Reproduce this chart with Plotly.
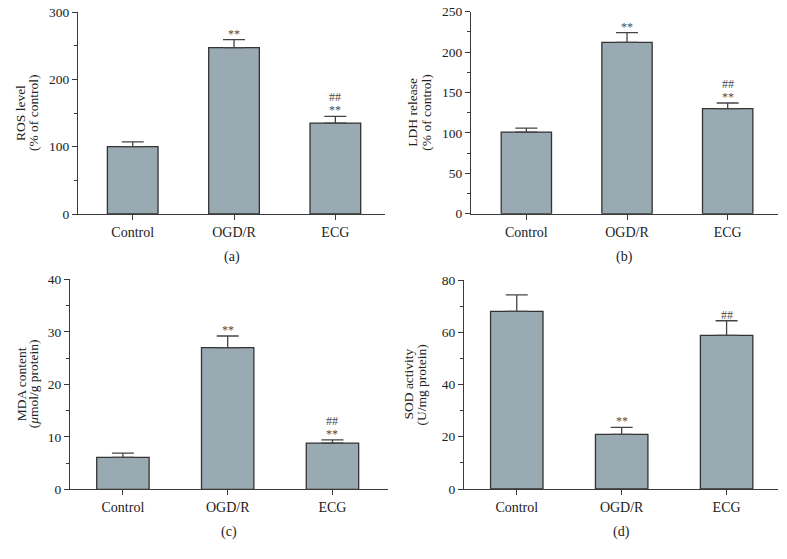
import plotly.graph_objects as go

categories = ["Control", "OGD/R", "ECG"]

ros_mean = [100, 247, 135]
ros_err = [7, 12, 10]
ldh_mean = [101, 212, 130]
ldh_err = [5, 12, 7]
mda_mean = [6.1, 27.0, 8.8]
mda_err = [0.8, 2.2, 0.6]
sod_mean = [68.0, 20.9, 58.8]
sod_err = [6.3, 2.7, 5.6]

ros_marks = [[], ["**"], ["**", "##"]]
ldh_marks = [[], ["**"], ["**", "##"]]
mda_marks = [[], ["**"], ["**", "##"]]
sod_marks = [[], ["**"], ["##"]]

panels = [
    dict(mean=ros_mean, err=ros_err, marks=ros_marks, title=["ROS level", "(% of control)"],
         label="(a)", yr=[0, 300], dt=100, mdt=50,
         px=(78, 385), py=(12, 214), xr=[-0.54, 2.49], tx=(20, 33)),
    dict(mean=ldh_mean, err=ldh_err, marks=ldh_marks, title=["LDH release", "(% of control)"],
         label="(b)", yr=[0, 250], dt=50, mdt=25,
         px=(471, 778), py=(11.7, 213.7), xr=[-0.55, 2.5], tx=(413, 427)),
    dict(mean=mda_mean, err=mda_err, marks=mda_marks,
         title=["MDA content", "(<i>μ</i>mol/g protein)"],
         label="(c)", yr=[0, 40], dt=10, mdt=5,
         px=(70, 388), py=(279.3, 489.3), xr=[-0.505, 2.53], tx=(21, 33)),
    dict(mean=sod_mean, err=sod_err, marks=sod_marks, title=["SOD activity", "(U/mg protein)"],
         label="(d)", yr=[0, 80], dt=20, mdt=10,
         px=(464, 778), py=(280, 489), xr=[-0.503, 2.49], tx=(408, 421)),
]

W, H = 787, 559


def fx(px):
    return px / W


def fy(py):
    return 1 - py / H


FONT = "Liberation Serif"
AX = "#3a3a3a"
fig = go.Figure()
layout = dict(
    width=W, height=H, margin=dict(l=0, r=0, t=0, b=0, pad=0),
    paper_bgcolor="white", plot_bgcolor="white", showlegend=False,
    font=dict(family=FONT, size=12, color="#222"),
    annotations=[],
)

for i, p in enumerate(panels):
    n = "" if i == 0 else str(i + 1)
    xa, ya = "x" + n, "y" + n
    fig.add_trace(go.Bar(
        x=categories, y=p["mean"], xaxis=xa, yaxis=ya, width=0.5,
        marker=dict(color="#9aaab2", line=dict(color="#333333", width=1.3)),
        error_y=dict(type="data", array=p["err"], arrayminus=[0, 0, 0], symmetric=False,
                     color="#444444", thickness=1.3, width=11),
        hoverinfo="skip",
    ))
    x0, x1 = p["px"]
    y0, y1 = p["py"]
    layout["xaxis" + n] = dict(
        domain=[fx(x0), fx(x1)], anchor=ya, range=p["xr"], type="category",
        automargin=False, ticklabeloverflow="allow",
        showline=True, linecolor=AX, linewidth=1.3, ticks="outside", ticklen=5,
        tickcolor=AX, tickwidth=1.2, showgrid=False, zeroline=False,
        tickfont=dict(family=FONT, size=14, color="#222"), fixedrange=True,
    )
    layout["yaxis" + n] = dict(
        domain=[fy(y1), fy(y0)], anchor=xa, range=p["yr"],
        automargin=False, ticklabeloverflow="allow",
        tickmode="linear", tick0=0, dtick=p["dt"],
        showline=True, linecolor=AX, linewidth=1.3, ticks="outside", ticklen=5,
        tickcolor=AX, tickwidth=1.2, showgrid=False, zeroline=False,
        minor=dict(ticks="outside", ticklen=3, tickcolor=AX, tickwidth=1.0,
                   dtick=p["mdt"], tick0=0, showgrid=False),
        tickfont=dict(family=FONT, size=13.5, color="#222"), fixedrange=True,
    )
    # axis title lines
    for t, tx in zip(p["title"], p["tx"]):
        layout["annotations"].append(dict(
            text=t, xref="paper", yref="paper", x=fx(tx),
            y=fy((y0 + y1) / 2), textangle=-90, showarrow=False,
            xanchor="center", yanchor="middle",
            font=dict(family=FONT, size=13.5, color="#222"),
        ))
    # panel label
    layout["annotations"].append(dict(
        text=p["label"], xref="paper", yref="paper", x=fx((x0 + x1) / 2),
        y=fy(y1 + 43), showarrow=False, xanchor="center", yanchor="middle",
        font=dict(family=FONT, size=14, color="#222"),
    ))
    # significance marks
    for c, m, e, mk in zip(categories, p["mean"], p["err"], p["marks"]):
        for k, t in enumerate(mk):
            layout["annotations"].append(dict(
                text=t, xref=xa, yref=ya, x=c, y=m + e, showarrow=False,
                xanchor="center", yanchor="bottom", yshift=-3 + 13 * k,
                font=dict(family=FONT, size=12, color="#4a4a4a"),
            ))

fig.update_layout(**layout)
fig.write_html("out.html", config={"displayModeBar": False},
               post_script="document.body.style.margin='0';")
